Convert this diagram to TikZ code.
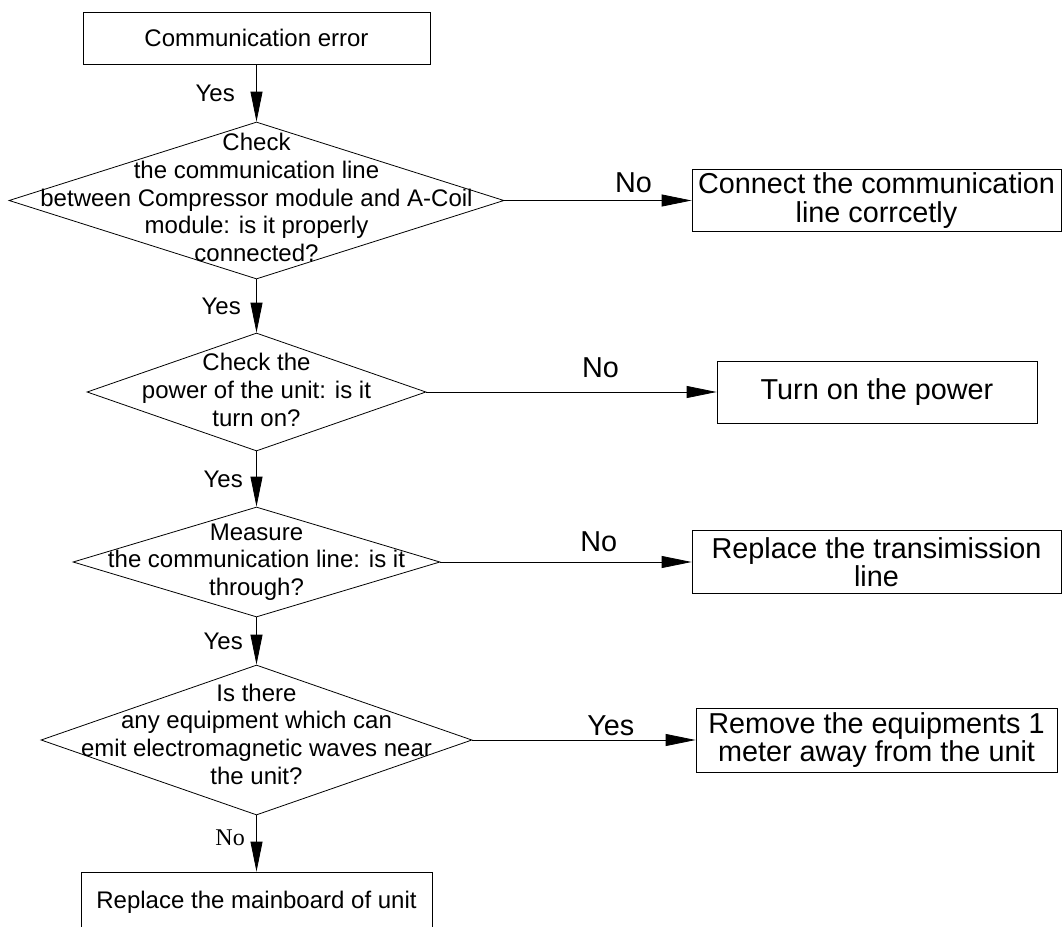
\documentclass[tikz,border=0pt]{standalone}
\usepackage{fontspec}
\setmainfont{Liberation Sans}
\newfontfamily\timesfont{Liberation Serif}
\usetikzlibrary{shapes.geometric, arrows.meta}
\tikzset{box/.style={draw, rectangle, inner sep=0pt, align=center, line width=0.8pt},
         big/.style={font=\fontsize{28.8}{28.5}\selectfont},
         decision/.style={draw, diamond, inner sep=0pt, line width=0.8pt},
         flow/.style={-{Triangle[length=30pt, width=12pt]}, line width=0.8pt}}
\newcommand{\fcheck}[6]{\node[decision, minimum width=#3, minimum height=#4] (#1) at (#2) {};
  \node[align=center, yshift=#5] (#1t) at (#1) {#6};}

\begin{document}
\begin{tikzpicture}[x=1pt, y=1pt, font=\fontsize{24}{27.7}\selectfont]
\path[use as bounding box, clip] (0,0) rectangle (1062,-926);
\node[box, minimum width=347, minimum height=52] (start) at (256.5,-38) {Communication error};
\fcheck{chk1}{256.5,-200.5}{495}{157}{3pt}{Check\\the communication line\\between Compressor module and A-Coil\\module: is it properly\\connected?}
\fcheck{chk2}{256.5,-392}{339}{118}{2pt}{Check the\\power of the unit: is it\\turn on?}
\fcheck{chk3}{256.5,-562}{367}{110}{0pt}{Measure\\the communication line: is it\\through?}
\fcheck{chk4}{256.5,-740}{431}{150}{6pt}{Is there\\any equipment which can\\emit electromagnetic waves near\\the unit?}
\node[box, minimum width=351, minimum height=60] (final) at (256.5,-902) {Replace the mainboard of unit};
% answers on the right
\node[box, big, minimum width=369, minimum height=62] (fix1) at (876.5,-200.5) {Connect the communication\\line corrcetly};
\node[box, big, minimum width=320, minimum height=62] (fix2) at (877,-392) {Turn on the power};
\node[box, big, minimum width=369, minimum height=63] (fix3) at (876.5,-562) {Replace the transimission\\line};
\node[box, big, minimum width=361, minimum height=64] (fix4) at (876.5,-740) {Remove the equipments 1\\meter away from the unit};
% main flow
\draw[flow] (start.south) -- (chk1.north) node[midway, left=18pt] (y1) {Yes};
\draw[flow] (chk1.south) -- (chk2.north) node[midway, left=12pt] (y2) {Yes};
\draw[flow] (chk2.south) -- (chk3.north) node[midway, left=10pt] (y3) {Yes};
\draw[flow] (chk3.south) -- (chk4.north) node[midway, left=10pt] (y4) {Yes};
\draw[flow] (chk4.south) -- (final.north) node[pos=0.4, left=8pt] (n5) {\timesfont No};
% side branches
\draw[flow] (chk1.east) -- (fix1.west) node[pos=0.69, above=4pt, big] (n1) {No};
\draw[flow] (chk2.east) -- (fix2.west) node[pos=0.6, above=10pt, big] (n2) {No};
\draw[flow] (chk3.east) -- (fix3.west) node[pos=0.63, above=6pt, big] (n3) {No};
\draw[flow] (chk4.east) -- (fix4.west) node[pos=0.62, above=0pt, big] (n4) {Yes};
\end{tikzpicture}
\end{document}
